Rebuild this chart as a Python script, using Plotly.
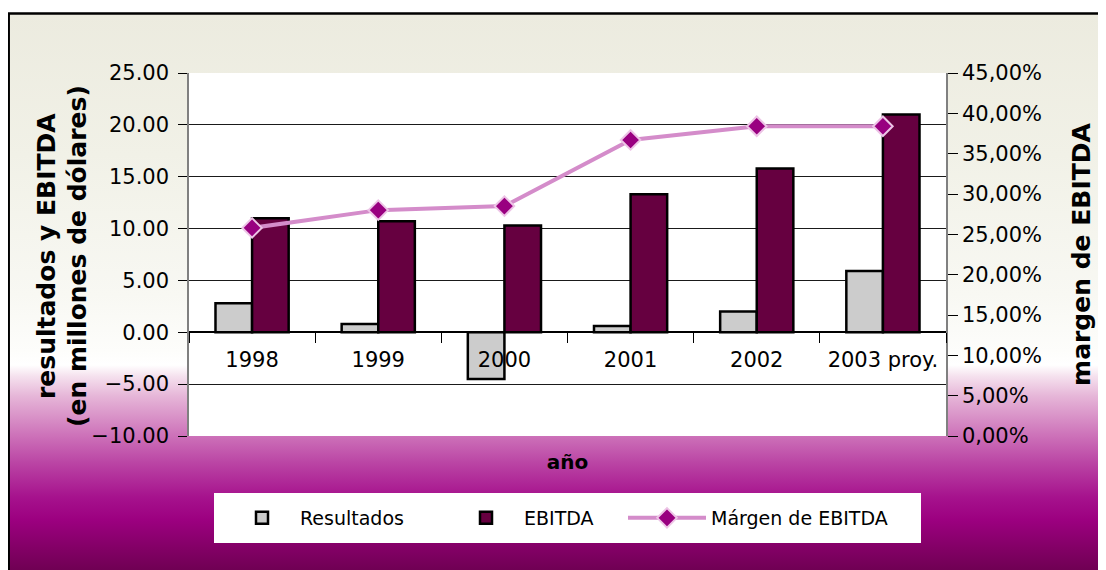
import base64
import plotly.graph_objects as go

# ---- data ----
years = ["1998", "1999", "2000", "2001", "2002", "2003 proy."]
resultados = [2.8, 0.8, -4.5, 0.6, 2.0, 5.9]
ebitda = [11.0, 10.7, 10.3, 13.3, 15.8, 21.0]
margen = [0.258, 0.280, 0.285, 0.367, 0.384, 0.384]
left_ticks = [-10, -5, 0, 5, 10, 15, 20, 25]
right_ticks = [0.0, 0.05, 0.10, 0.15, 0.20, 0.25, 0.30, 0.35, 0.40, 0.45]
right_ticktext = [f"{v*100:.2f}%".replace(".", ",") for v in right_ticks]
left_title_lines = ["resultados y EBITDA", "(en millones de dólares)"]

FONT = "DejaVu Sans"
OFF = 8  # page body margin
W, H = 1106 - OFF, 570 - OFF
L, T = 189 - OFF, 73 - OFF
pw, ph = 757, 363
R, B = W - L - pw, H - T - ph


def pxx(page_x):
    return (page_x - OFF - L) / pw


def pxy(page_y):
    return (T + ph - (page_y - OFF)) / ph


# background gradient (SVG data URI)
stops = [
    (0.00, "#ECEBDF"), (0.25, "#F1F1E7"), (0.50, "#F8F8F3"), (0.60, "#FDFDFB"),
    (0.625, "#FFFFFF"), (0.645, "#F5E1EE"), (0.68, "#E6B6D8"), (0.75, "#CD72B9"),
    (0.80, "#BA44A4"), (0.86, "#A6128D"), (0.90, "#9C0080"), (0.95, "#830066"),
    (1.00, "#6A004E"),
]
stop_xml = "".join(f'<stop offset="{o}" stop-color="{c}"/>' for o, c in stops)
svg = (
    '<svg xmlns="http://www.w3.org/2000/svg" width="100" height="100" preserveAspectRatio="none">'
    f'<defs><linearGradient id="g" x1="0" y1="0" x2="0" y2="1">{stop_xml}</linearGradient></defs>'
    '<rect x="0" y="0" width="100" height="100" fill="url(#g)"/></svg>'
)
svg_uri = "data:image/svg+xml;base64," + base64.b64encode(svg.encode()).decode()

fig = go.Figure()
fig.add_trace(go.Bar(
    x=years, y=resultados, name="Resultados", legend="legend",
    marker=dict(color="#CCCCCC", line=dict(color="black", width=2.5)),
))
fig.add_trace(go.Bar(
    x=years, y=ebitda, name="EBITDA", legend="legend2",
    marker=dict(color="#660040", line=dict(color="black", width=2.5)),
))
fig.add_trace(go.Scatter(
    x=years, y=margen, name="Márgen de EBITDA", yaxis="y2", legend="legend3",
    mode="lines+markers",
    line=dict(color="#D48CCA", width=4),
    marker=dict(symbol="diamond", size=15, color="#990080",
                line=dict(color="#EDC4E6", width=2)),
))

bx0, by1 = pxx(8.7), pxy(13.5)
bx1, by0 = pxx(1112), pxy(576)

annotations = [
    dict(text=f"<b>{line}</b>", xref="paper", yref="paper",
         x=pxx(xc), y=pxy(256), xanchor="center", yanchor="middle",
         textangle=-90, showarrow=False,
         font=dict(family=FONT, size=25, color="black"))
    for line, xc in zip(left_title_lines, [46, 77])
]


def leg(x_page, iw):
    return dict(
        orientation="h", x=pxx(x_page), xanchor="left",
        y=pxy(518), yanchor="middle",
        bgcolor="rgba(0,0,0,0)", borderwidth=0,
        font=dict(family=FONT, size=19, color="black"),
        itemwidth=iw,
    )


fig.update_layout(
    width=W, height=H,
    margin=dict(l=L, r=R, t=T, b=B, autoexpand=False),
    paper_bgcolor="white",
    plot_bgcolor="rgba(0,0,0,0)",
    font=dict(family=FONT, color="black"),
    barmode="group", bargap=0.42, bargroupgap=0,
    showlegend=True,
    legend=leg(224, 66),
    legend2=leg(448, 66),
    legend3=leg(623, 78),
    annotations=annotations,
    xaxis=dict(
        type="category",
        anchor="free", position=10 / 35,
        showline=True, linecolor="black", linewidth=1.5,
        ticks="outside", tickson="boundaries", ticklen=10, tickcolor="black", tickwidth=1,
        tickfont=dict(family=FONT, size=21, color="black"),
        ticklabelstandoff=9,
        showgrid=False,
        title=dict(text="<b>año</b>", font=dict(family=FONT, size=20, color="black"), standoff=83),
        range=[-0.5, 5.5],
    ),
    yaxis=dict(
        range=[-10, 25], tickvals=left_ticks, tickformat=".2f",
        showline=True, linecolor="#808080", linewidth=1.5,
        ticks="outside", ticklen=9, tickcolor="black",
        tickfont=dict(family=FONT, size=21, color="black"),
        ticklabelstandoff=5,
        showgrid=True, gridcolor="#1a1a1a", gridwidth=1.3, zeroline=False,
    ),
    yaxis2=dict(
        overlaying="y", side="right", range=[0, 0.45],
        tickvals=right_ticks, ticktext=right_ticktext,
        showline=True, linecolor="#808080", linewidth=1.5,
        ticks="outside", ticklen=10, tickcolor="black",
        tickfont=dict(family=FONT, size=21, color="black"),
        showgrid=False, zeroline=False,
        title=dict(text="<b>margen de EBITDA</b>",
                   font=dict(family=FONT, size=25, color="black"), standoff=31),
    ),
    images=[dict(
        source=svg_uri, xref="paper", yref="paper",
        x=bx0, y=by1, sizex=bx1 - bx0, sizey=by1 - by0,
        xanchor="left", yanchor="top", sizing="stretch", layer="below",
    )],
    shapes=[
        dict(type="rect", xref="paper", yref="paper",
             x0=bx0, x1=bx1, y0=by0, y1=by1,
             line=dict(color="black", width=2.5), fillcolor="rgba(0,0,0,0)", layer="below"),
        dict(type="rect", xref="x", yref="y", x0=-0.5, x1=5.5, y0=-10, y1=25,
             line=dict(width=0), fillcolor="white", layer="below"),
        dict(type="rect", xref="paper", yref="paper",
             x0=pxx(214), x1=pxx(921), y0=pxy(543), y1=pxy(493),
             line=dict(width=0), fillcolor="white", layer="below"),
    ],
)

fig.write_html("out.html")
